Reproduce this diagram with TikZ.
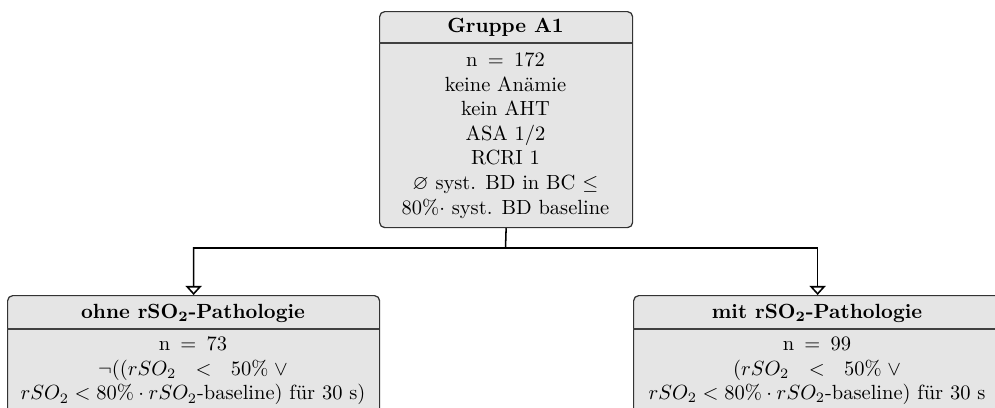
\documentclass[tikz,border=0pt]{standalone}
\usepackage{amssymb}
\usetikzlibrary{arrows.meta,calc}
\begin{document}
\begin{tikzpicture}[x=0.4878pt,y=-0.4878pt,
  boxshape/.style={draw=black!80,line width=0.6pt,fill=black!10,rounded corners=2.5pt,inner sep=0pt,anchor=north west},
  sepline/.style={draw=black!75,line width=0.6pt},
  titletext/.style={font=\bfseries,inner sep=0pt},
  bodytext/.style={align=center,inner sep=0pt},
  conn/.style={line width=0.75pt,-{Triangle[open,width=7.8pt,length=4.4pt,fill=white]}}]
\useasboundingbox (0,0) rectangle (995,407);
% top box
\node[boxshape,minimum width=253*0.4878pt,minimum height=216*0.4878pt] (top) at (379,11) {};
\coordinate (topsepl) at (379,43);
\coordinate (topsepr) at (632,43);
\draw[sepline] (topsepl) -- (topsepr);
\node[titletext] (toptitle) at (505.5,27) {Gruppe A1};
\node[bodytext] (topbody) at (505.5,135.5) {\baselineskip=12.3pt n \,=\, 172\\keine Anämie\\kein AHT\\ASA 1/2\\RCRI 1\\$\varnothing$ syst. BD in BC $\leq$\\80\%$\cdot$ syst. BD baseline\par};
% left box
\node[boxshape,minimum width=372*0.4878pt,minimum height=160*0.4878pt] (left) at (7,295) {};
\coordinate (lsepl) at (7,329);
\coordinate (lsepr) at (379,329);
\draw[sepline] (lsepl) -- (lsepr);
\node[titletext] (ltitle) at (193,313) {ohne rSO\textsubscript{2}-Pathologie};
\node[bodytext] (lbody) at (193,371) {\baselineskip=11.2pt n \,=\, 73\\$\neg((rSO_2\ \ <\ \ 50\%\;\vee$\\$rSO_2<80\%\cdot rSO_2$-baseline) für 30 s)\par};
% right box
\node[boxshape,minimum width=368*0.4878pt,minimum height=160*0.4878pt] (right) at (633,295) {};
\coordinate (rsepl) at (633,329);
\coordinate (rsepr) at (1001,329);
\draw[sepline] (rsepl) -- (rsepr);
\node[titletext] (rtitle) at (817,313) {mit rSO\textsubscript{2}-Pathologie};
\node[bodytext] (rbody) at (817,371) {\baselineskip=11.2pt n \,=\, 99\\$(rSO_2\ \ <\ \ 50\%\;\vee$\\$rSO_2<80\%\cdot rSO_2$-baseline) für 30 s\par};
% connectors
\coordinate (split) at (505.5,248);
\draw[conn] (top.south) -- (split) -| (left.north);
\draw[conn] (split) -| (right.north);
\end{tikzpicture}
\end{document}
